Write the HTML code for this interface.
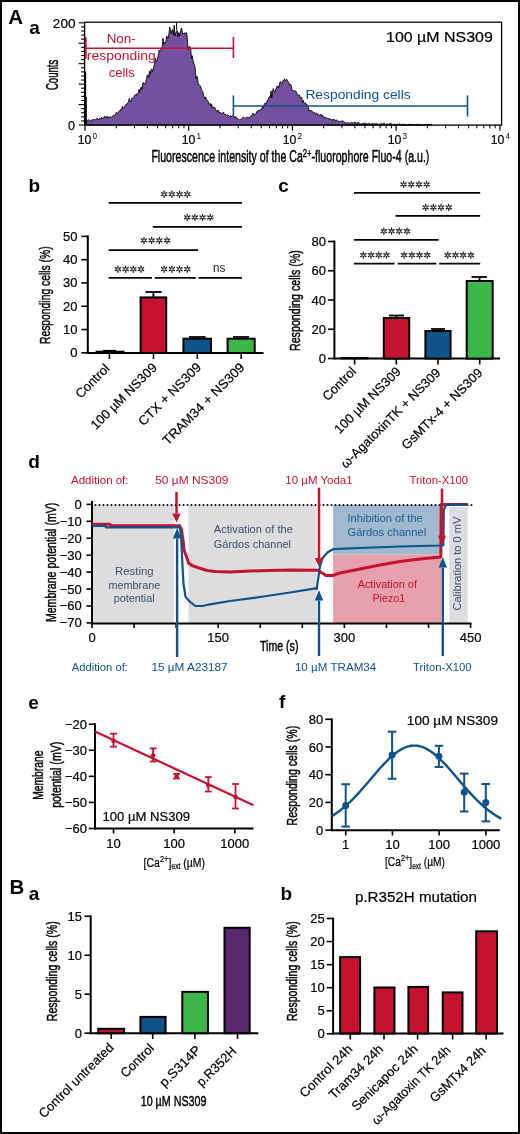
<!DOCTYPE html>
<html><head><meta charset="utf-8"><style>
html,body{margin:0;padding:0;background:#fff;}
svg{display:block;will-change:transform;}
text{font-family:"Liberation Sans",sans-serif;}
</style></head><body>
<svg width="520" height="1134" viewBox="0 0 520 1134" font-family="Liberation Sans">
<rect x="1" y="1" width="518" height="1132" fill="#fff" stroke="#000" stroke-width="2"/>
<text id="t0" x="8.30" y="23.90" font-size="20.5" text-anchor="start" fill="#000" font-weight="bold" >A</text>
<text id="t1" x="29.30" y="34.00" font-size="19" text-anchor="start" fill="#000" font-weight="bold" >a</text>
<path d="M85.0,125.0 L85.0,120.3 L85.8,121.1 L86.5,120.0 L87.2,120.6 L88.0,119.9 L88.8,119.7 L89.5,121.2 L90.2,120.8 L91.0,121.6 L91.8,119.8 L92.5,119.9 L93.2,119.8 L94.0,119.2 L94.8,120.0 L95.5,119.8 L96.2,118.6 L97.0,118.8 L97.8,118.4 L98.5,120.0 L99.2,118.7 L100.0,118.6 L100.8,118.9 L101.5,117.3 L102.2,118.9 L103.0,118.0 L103.8,117.8 L104.5,115.9 L105.2,117.9 L106.0,116.7 L106.8,116.5 L107.5,116.3 L108.2,118.6 L109.0,116.9 L109.8,117.1 L110.5,117.0 L111.2,117.3 L112.0,116.3 L112.8,115.9 L113.5,115.4 L114.2,115.4 L115.0,114.8 L115.8,113.4 L116.5,112.2 L117.2,113.7 L118.0,112.7 L118.8,111.5 L119.5,110.6 L120.2,111.0 L121.0,109.1 L121.8,108.8 L122.5,106.3 L123.2,108.4 L124.0,107.4 L124.8,105.7 L125.5,105.7 L126.2,104.0 L127.0,104.5 L127.8,102.9 L128.5,101.5 L129.2,98.6 L130.0,101.0 L130.8,101.9 L131.5,98.5 L132.2,98.0 L133.0,98.5 L133.8,97.3 L134.5,95.3 L135.2,94.6 L136.0,95.5 L136.8,93.8 L137.5,93.4 L138.2,93.2 L139.0,89.3 L139.8,92.7 L140.5,88.9 L141.2,86.9 L142.0,89.7 L142.8,82.9 L143.5,82.4 L144.2,83.9 L145.0,84.0 L145.8,81.7 L146.5,79.2 L147.2,75.2 L148.0,75.0 L148.8,77.5 L149.5,71.0 L150.2,74.3 L151.0,70.1 L151.8,68.9 L152.5,71.6 L153.2,69.3 L154.0,65.7 L154.8,62.0 L155.5,58.3 L156.2,61.9 L157.0,61.6 L157.8,57.2 L158.5,53.8 L159.2,50.1 L160.0,51.0 L160.8,49.5 L161.5,47.7 L162.2,46.9 L163.0,38.3 L163.8,44.6 L164.5,42.3 L165.2,43.0 L166.0,41.1 L166.8,35.9 L167.5,39.0 L168.2,38.2 L169.0,32.9 L169.8,27.0 L170.5,31.3 L171.2,33.8 L172.0,30.0 L172.8,29.7 L173.5,35.2 L174.2,25.3 L175.0,36.0 L175.8,32.5 L176.5,31.3 L177.2,30.5 L178.0,37.0 L178.8,32.5 L179.5,36.0 L180.2,33.4 L181.0,29.3 L181.8,28.2 L182.5,34.1 L183.2,33.5 L184.0,33.5 L184.8,32.8 L185.5,34.1 L186.2,32.6 L187.0,35.2 L187.8,45.6 L188.5,49.6 L189.2,46.4 L190.0,46.7 L190.8,49.3 L191.5,58.8 L192.2,55.7 L193.0,60.5 L193.8,63.1 L194.5,65.2 L195.2,68.0 L196.0,78.7 L196.8,76.1 L197.5,77.3 L198.2,84.2 L199.0,84.3 L199.8,85.5 L200.5,86.2 L201.2,88.5 L202.0,90.6 L202.8,91.5 L203.5,94.7 L204.2,96.7 L205.0,98.5 L205.8,97.0 L206.5,100.0 L207.2,100.3 L208.0,101.0 L208.8,104.1 L209.5,104.2 L210.2,103.3 L211.0,106.5 L211.8,104.4 L212.5,108.1 L213.2,107.5 L214.0,107.5 L214.8,107.3 L215.5,109.4 L216.2,110.9 L217.0,110.0 L217.8,111.7 L218.5,110.2 L219.2,113.2 L220.0,112.1 L220.8,112.9 L221.5,113.8 L222.2,112.9 L223.0,112.4 L223.8,112.8 L224.5,114.7 L225.2,114.5 L226.0,114.4 L226.8,115.6 L227.5,115.1 L228.2,115.1 L229.0,115.9 L229.8,116.7 L230.5,115.4 L231.2,116.8 L232.0,116.0 L232.8,116.1 L233.5,116.1 L234.2,116.5 L235.0,118.1 L235.8,116.5 L236.5,118.5 L237.2,118.1 L238.0,118.9 L238.8,119.2 L239.5,119.9 L240.2,119.5 L241.0,119.2 L241.8,118.8 L242.5,118.0 L243.2,117.2 L244.0,117.3 L244.8,118.2 L245.5,118.3 L246.2,117.5 L247.0,117.1 L247.8,117.5 L248.5,117.6 L249.2,118.1 L250.0,116.7 L250.8,116.2 L251.5,115.8 L252.2,114.7 L253.0,113.0 L253.8,115.0 L254.5,114.6 L255.2,114.5 L256.0,113.3 L256.8,111.5 L257.5,112.5 L258.2,110.3 L259.0,110.0 L259.8,111.0 L260.5,110.1 L261.2,108.6 L262.0,109.0 L262.8,106.1 L263.5,107.8 L264.2,104.6 L265.0,103.1 L265.8,104.3 L266.5,102.0 L267.2,101.0 L268.0,99.2 L268.8,98.0 L269.5,96.4 L270.2,97.7 L271.0,90.9 L271.8,97.8 L272.5,91.8 L273.2,88.6 L274.0,91.4 L274.8,92.0 L275.5,89.2 L276.2,89.2 L277.0,86.1 L277.8,86.3 L278.5,88.1 L279.2,84.9 L280.0,82.0 L280.8,81.8 L281.5,83.6 L282.2,83.4 L283.0,80.6 L283.8,80.7 L284.5,78.8 L285.2,80.7 L286.0,79.9 L286.8,79.3 L287.5,81.1 L288.2,81.5 L289.0,83.1 L289.8,85.3 L290.5,84.5 L291.2,85.5 L292.0,90.4 L292.8,90.3 L293.5,90.8 L294.2,90.4 L295.0,91.2 L295.8,90.9 L296.5,92.7 L297.2,93.7 L298.0,95.1 L298.8,96.2 L299.5,94.9 L300.2,98.0 L301.0,97.0 L301.8,98.2 L302.5,102.5 L303.2,100.3 L304.0,102.9 L304.8,103.6 L305.5,102.7 L306.2,105.0 L307.0,104.3 L307.8,105.9 L308.5,107.8 L309.2,111.4 L310.0,110.3 L310.8,110.5 L311.5,110.7 L312.2,111.1 L313.0,112.9 L313.8,113.0 L314.5,112.2 L315.2,113.9 L316.0,113.7 L316.8,112.8 L317.5,115.1 L318.2,114.1 L319.0,114.8 L319.8,115.8 L320.5,114.6 L321.2,114.4 L322.0,116.4 L322.8,115.2 L323.5,118.1 L324.2,118.0 L325.0,116.9 L325.8,117.5 L326.5,118.0 L327.2,117.9 L328.0,118.8 L328.8,118.8 L329.5,118.7 L330.2,119.3 L331.0,118.9 L331.8,119.5 L332.5,120.7 L333.2,119.0 L334.0,120.0 L334.8,119.6 L335.5,121.4 L336.2,119.9 L337.0,120.3 L337.8,121.2 L338.5,121.2 L339.2,121.8 L340.0,121.6 L340.8,120.8 L341.5,121.3 L342.2,121.4 L343.0,120.6 L343.8,121.4 L344.5,122.8 L345.2,122.6 L346.0,123.2 L346.8,123.1 L347.5,122.6 L348.2,122.7 L349.0,123.0 L349.8,123.4 L350.5,123.1 L351.2,122.6 L352.0,122.9 L352.8,122.7 L353.5,122.9 L354.2,122.2 L355.0,122.8 L355.8,122.5 L356.5,124.3 L357.2,122.6 L358.0,123.2 L358.8,122.6 L359.5,124.0 L360.2,124.1 L361.0,123.7 L361.8,123.8 L362.5,123.7 L363.2,123.5 L364.0,123.1 L364.8,122.9 L365.5,123.0 L366.2,123.7 L367.0,123.8 L367.8,124.0 L368.5,123.4 L369.2,123.5 L370.0,124.1 L370.8,124.5 L371.5,124.0 L372.2,123.3 L373.0,124.2 L373.8,123.6 L374.5,123.5 L375.2,123.9 L376.0,124.1 L376.8,123.5 L377.5,123.7 L378.2,125.0 L379.0,124.5 L379.8,124.0 L380.5,123.9 L381.2,123.4 L382.0,123.9 L382.8,124.4 L383.5,123.1 L384.2,122.9 L385.0,123.7 L385.8,124.8 L386.5,124.2 L387.2,124.0 L388.0,124.6 L388.8,124.5 L389.5,123.4 L390.2,123.7 L391.0,123.3 L391.8,124.8 L392.5,124.4 L393.2,124.8 L394.0,124.5 L394.8,123.9 L395.5,124.1 L396.2,124.8 L397.0,124.3 L397.8,124.2 L398.5,125.0 L399.2,123.8 L400.0,124.3 L400.8,124.1 L401.5,125.0 L402.2,124.5 L403.0,124.2 L403.8,124.2 L404.5,124.4 L405.2,124.9 L406.0,124.5 L406.8,124.8 L407.5,125.0 L408.2,124.4 L409.0,124.7 L409.8,124.4 L410.5,124.3 L411.2,124.0 L412.0,125.0 L412.8,124.1 L413.5,124.8 L414.2,124.9 L415.0,125.0 L415.8,124.5 L416.5,124.8 L417.2,123.9 L418.0,124.7 L418.8,124.8 L419.5,125.0 L420.2,124.7 L421.0,125.0 L421.8,124.9 L422.5,125.0 L423.2,125.0 L424.0,125.0 L424.8,124.3 L425.5,125.0 L426.2,124.6 L427.0,125.0 L427.8,125.0 L428.5,124.8 L429.2,124.1 L430.0,124.8 L430.8,124.8 L431.5,124.4 L432.0,125.0 Z" fill="#7350a0" stroke="#000" stroke-width="0.85" stroke-linejoin="miter" stroke-miterlimit="2"/>
<line x1="85.60" y1="71.50" x2="85.60" y2="125.00" stroke="#000" stroke-width="1.2" />
<line x1="85.80" y1="97.00" x2="85.80" y2="125.00" stroke="#000" stroke-width="2" />
<line x1="176.60" y1="22.50" x2="176.60" y2="30.00" stroke="#000" stroke-width="1.0" />
<rect x="84.6" y="22.2" width="417" height="102.9" fill="none" stroke="#000" stroke-width="1.3"/>
<line x1="78.60" y1="125.00" x2="84.60" y2="125.00" stroke="#000" stroke-width="1.1" />
<line x1="81.10" y1="120.91" x2="84.60" y2="120.91" stroke="#000" stroke-width="1.1" />
<line x1="81.10" y1="116.82" x2="84.60" y2="116.82" stroke="#000" stroke-width="1.1" />
<line x1="81.10" y1="112.74" x2="84.60" y2="112.74" stroke="#000" stroke-width="1.1" />
<line x1="81.10" y1="108.65" x2="84.60" y2="108.65" stroke="#000" stroke-width="1.1" />
<line x1="78.60" y1="104.56" x2="84.60" y2="104.56" stroke="#000" stroke-width="1.1" />
<line x1="81.10" y1="100.47" x2="84.60" y2="100.47" stroke="#000" stroke-width="1.1" />
<line x1="81.10" y1="96.38" x2="84.60" y2="96.38" stroke="#000" stroke-width="1.1" />
<line x1="81.10" y1="92.30" x2="84.60" y2="92.30" stroke="#000" stroke-width="1.1" />
<line x1="81.10" y1="88.21" x2="84.60" y2="88.21" stroke="#000" stroke-width="1.1" />
<line x1="78.60" y1="84.12" x2="84.60" y2="84.12" stroke="#000" stroke-width="1.1" />
<line x1="81.10" y1="80.03" x2="84.60" y2="80.03" stroke="#000" stroke-width="1.1" />
<line x1="81.10" y1="75.94" x2="84.60" y2="75.94" stroke="#000" stroke-width="1.1" />
<line x1="81.10" y1="71.86" x2="84.60" y2="71.86" stroke="#000" stroke-width="1.1" />
<line x1="81.10" y1="67.77" x2="84.60" y2="67.77" stroke="#000" stroke-width="1.1" />
<line x1="78.60" y1="63.68" x2="84.60" y2="63.68" stroke="#000" stroke-width="1.1" />
<line x1="81.10" y1="59.59" x2="84.60" y2="59.59" stroke="#000" stroke-width="1.1" />
<line x1="81.10" y1="55.50" x2="84.60" y2="55.50" stroke="#000" stroke-width="1.1" />
<line x1="81.10" y1="51.42" x2="84.60" y2="51.42" stroke="#000" stroke-width="1.1" />
<line x1="81.10" y1="47.33" x2="84.60" y2="47.33" stroke="#000" stroke-width="1.1" />
<line x1="78.60" y1="43.24" x2="84.60" y2="43.24" stroke="#000" stroke-width="1.1" />
<line x1="81.10" y1="39.15" x2="84.60" y2="39.15" stroke="#000" stroke-width="1.1" />
<line x1="81.10" y1="35.06" x2="84.60" y2="35.06" stroke="#000" stroke-width="1.1" />
<line x1="81.10" y1="30.98" x2="84.60" y2="30.98" stroke="#000" stroke-width="1.1" />
<line x1="81.10" y1="26.89" x2="84.60" y2="26.89" stroke="#000" stroke-width="1.1" />
<line x1="78.60" y1="22.80" x2="84.60" y2="22.80" stroke="#000" stroke-width="1.1" />
<text id="t2" x="75.50" y="28.00" font-size="12.5" text-anchor="end" fill="#000" textLength="22.61" lengthAdjust="spacingAndGlyphs" stroke="#000" stroke-width="0.2" >200</text>
<text id="t3" x="75.00" y="129.50" font-size="12.5" text-anchor="end" fill="#000" stroke="#000" stroke-width="0.2" >0</text>
<text id="t4" x="57.80" y="74.90" font-size="16" text-anchor="middle" fill="#000" textLength="30.42" lengthAdjust="spacingAndGlyphs" transform="rotate(-90 57.80 74.90)" stroke="#000" stroke-width="0.45" >Counts</text>
<line x1="85.00" y1="125.00" x2="85.00" y2="130.70" stroke="#000" stroke-width="1.2" />
<line x1="116.22" y1="125.00" x2="116.22" y2="128.30" stroke="#000" stroke-width="1.0" />
<line x1="134.49" y1="125.00" x2="134.49" y2="128.30" stroke="#000" stroke-width="1.0" />
<line x1="147.45" y1="125.00" x2="147.45" y2="128.30" stroke="#000" stroke-width="1.0" />
<line x1="157.50" y1="125.00" x2="157.50" y2="128.30" stroke="#000" stroke-width="1.0" />
<line x1="165.71" y1="125.00" x2="165.71" y2="128.30" stroke="#000" stroke-width="1.0" />
<line x1="172.65" y1="125.00" x2="172.65" y2="128.30" stroke="#000" stroke-width="1.0" />
<line x1="178.67" y1="125.00" x2="178.67" y2="128.30" stroke="#000" stroke-width="1.0" />
<line x1="183.97" y1="125.00" x2="183.97" y2="128.30" stroke="#000" stroke-width="1.0" />
<text id="t5" x="84.60" y="143.60" font-size="12.3" text-anchor="middle" fill="#000" stroke="#000" stroke-width="0.2" >10</text>
<text id="t6" x="92.60" y="139.30" font-size="8.2" text-anchor="start" fill="#000" >0</text>
<line x1="188.72" y1="125.00" x2="188.72" y2="130.70" stroke="#000" stroke-width="1.2" />
<line x1="219.94" y1="125.00" x2="219.94" y2="128.30" stroke="#000" stroke-width="1.0" />
<line x1="238.21" y1="125.00" x2="238.21" y2="128.30" stroke="#000" stroke-width="1.0" />
<line x1="251.17" y1="125.00" x2="251.17" y2="128.30" stroke="#000" stroke-width="1.0" />
<line x1="261.22" y1="125.00" x2="261.22" y2="128.30" stroke="#000" stroke-width="1.0" />
<line x1="269.43" y1="125.00" x2="269.43" y2="128.30" stroke="#000" stroke-width="1.0" />
<line x1="276.37" y1="125.00" x2="276.37" y2="128.30" stroke="#000" stroke-width="1.0" />
<line x1="282.39" y1="125.00" x2="282.39" y2="128.30" stroke="#000" stroke-width="1.0" />
<line x1="287.69" y1="125.00" x2="287.69" y2="128.30" stroke="#000" stroke-width="1.0" />
<text id="t7" x="188.50" y="143.60" font-size="12.3" text-anchor="middle" fill="#000" stroke="#000" stroke-width="0.2" >10</text>
<text id="t8" x="196.50" y="139.30" font-size="8.2" text-anchor="start" fill="#000" >1</text>
<line x1="292.44" y1="125.00" x2="292.44" y2="130.70" stroke="#000" stroke-width="1.2" />
<line x1="323.66" y1="125.00" x2="323.66" y2="128.30" stroke="#000" stroke-width="1.0" />
<line x1="341.93" y1="125.00" x2="341.93" y2="128.30" stroke="#000" stroke-width="1.0" />
<line x1="354.89" y1="125.00" x2="354.89" y2="128.30" stroke="#000" stroke-width="1.0" />
<line x1="364.94" y1="125.00" x2="364.94" y2="128.30" stroke="#000" stroke-width="1.0" />
<line x1="373.15" y1="125.00" x2="373.15" y2="128.30" stroke="#000" stroke-width="1.0" />
<line x1="380.09" y1="125.00" x2="380.09" y2="128.30" stroke="#000" stroke-width="1.0" />
<line x1="386.11" y1="125.00" x2="386.11" y2="128.30" stroke="#000" stroke-width="1.0" />
<line x1="391.41" y1="125.00" x2="391.41" y2="128.30" stroke="#000" stroke-width="1.0" />
<text id="t9" x="289.60" y="143.60" font-size="12.3" text-anchor="middle" fill="#000" stroke="#000" stroke-width="0.2" >10</text>
<text id="t10" x="297.60" y="139.30" font-size="8.2" text-anchor="start" fill="#000" >2</text>
<line x1="396.16" y1="125.00" x2="396.16" y2="130.70" stroke="#000" stroke-width="1.2" />
<line x1="427.38" y1="125.00" x2="427.38" y2="128.30" stroke="#000" stroke-width="1.0" />
<line x1="445.65" y1="125.00" x2="445.65" y2="128.30" stroke="#000" stroke-width="1.0" />
<line x1="458.61" y1="125.00" x2="458.61" y2="128.30" stroke="#000" stroke-width="1.0" />
<line x1="468.66" y1="125.00" x2="468.66" y2="128.30" stroke="#000" stroke-width="1.0" />
<line x1="476.87" y1="125.00" x2="476.87" y2="128.30" stroke="#000" stroke-width="1.0" />
<line x1="483.81" y1="125.00" x2="483.81" y2="128.30" stroke="#000" stroke-width="1.0" />
<line x1="489.83" y1="125.00" x2="489.83" y2="128.30" stroke="#000" stroke-width="1.0" />
<line x1="495.13" y1="125.00" x2="495.13" y2="128.30" stroke="#000" stroke-width="1.0" />
<text id="t11" x="394.50" y="143.60" font-size="12.3" text-anchor="middle" fill="#000" stroke="#000" stroke-width="0.2" >10</text>
<text id="t12" x="402.50" y="139.30" font-size="8.2" text-anchor="start" fill="#000" >3</text>
<line x1="499.88" y1="125.00" x2="499.88" y2="130.70" stroke="#000" stroke-width="1.2" />
<text id="t13" x="497.60" y="143.60" font-size="12.3" text-anchor="middle" fill="#000" stroke="#000" stroke-width="0.2" >10</text>
<text id="t14" x="505.60" y="139.30" font-size="8.2" text-anchor="start" fill="#000" >4</text>
<text id="t15" x="151.40" y="162.30" font-size="16" text-anchor="start" fill="#000" textLength="277.99" lengthAdjust="spacingAndGlyphs" stroke="#000" stroke-width="0.45" >Fluorescence intensity of the Ca<tspan font-size="11.5" dy="-5.2">2+</tspan><tspan dy="5.2">-fluorophore Fluo-4 (a.u.)</tspan></text>
<text id="t16" x="386.00" y="41.50" font-size="15" text-anchor="start" fill="#000" textLength="106.88" lengthAdjust="spacingAndGlyphs" stroke="#000" stroke-width="0.2" >100 µM NS309</text>
<line x1="85.00" y1="48.30" x2="233.40" y2="48.30" stroke="#c41230" stroke-width="1.6" />
<line x1="85.80" y1="37.20" x2="85.80" y2="58.60" stroke="#c41230" stroke-width="1.8" />
<line x1="233.40" y1="37.00" x2="233.40" y2="58.00" stroke="#c41230" stroke-width="1.6" />
<text id="t17" x="121.20" y="42.60" font-size="13.5" text-anchor="middle" fill="#c41230" textLength="28.98" lengthAdjust="spacingAndGlyphs" >Non-</text>
<text id="t18" x="121.30" y="59.60" font-size="13.5" text-anchor="middle" fill="#c41230" textLength="68.87" lengthAdjust="spacingAndGlyphs" >responding</text>
<text id="t19" x="121.70" y="76.90" font-size="13.5" text-anchor="middle" fill="#c41230" textLength="25.87" lengthAdjust="spacingAndGlyphs" >cells</text>
<line x1="233.40" y1="106.00" x2="467.50" y2="106.00" stroke="#10528a" stroke-width="1.6" />
<line x1="233.40" y1="95.40" x2="233.40" y2="116.50" stroke="#10528a" stroke-width="1.6" />
<line x1="467.50" y1="95.40" x2="467.50" y2="116.50" stroke="#10528a" stroke-width="1.6" />
<text id="t20" x="305.40" y="98.50" font-size="13.5" text-anchor="start" fill="#10528a" textLength="105.22" lengthAdjust="spacingAndGlyphs" >Responding cells</text>
<text id="t21" x="28.40" y="192.30" font-size="19" text-anchor="start" fill="#000" font-weight="bold" >b</text>
<line x1="87.80" y1="235.40" x2="87.80" y2="353.80" stroke="#000" stroke-width="2" />
<line x1="81.30" y1="352.80" x2="87.80" y2="352.80" stroke="#000" stroke-width="1.6" />
<text id="t22" x="77.50" y="357.30" font-size="13" text-anchor="end" fill="#000" stroke="#000" stroke-width="0.2" >0</text>
<line x1="81.30" y1="329.52" x2="87.80" y2="329.52" stroke="#000" stroke-width="1.6" />
<text id="t23" x="77.50" y="334.02" font-size="13" text-anchor="end" fill="#000" stroke="#000" stroke-width="0.2" >10</text>
<line x1="81.30" y1="306.24" x2="87.80" y2="306.24" stroke="#000" stroke-width="1.6" />
<text id="t24" x="77.50" y="310.74" font-size="13" text-anchor="end" fill="#000" stroke="#000" stroke-width="0.2" >20</text>
<line x1="81.30" y1="282.96" x2="87.80" y2="282.96" stroke="#000" stroke-width="1.6" />
<text id="t25" x="77.50" y="287.46" font-size="13" text-anchor="end" fill="#000" stroke="#000" stroke-width="0.2" >30</text>
<line x1="81.30" y1="259.68" x2="87.80" y2="259.68" stroke="#000" stroke-width="1.6" />
<text id="t26" x="77.50" y="264.18" font-size="13" text-anchor="end" fill="#000" stroke="#000" stroke-width="0.2" >40</text>
<line x1="81.30" y1="236.40" x2="87.80" y2="236.40" stroke="#000" stroke-width="1.6" />
<text id="t27" x="77.50" y="240.90" font-size="13" text-anchor="end" fill="#000" stroke="#000" stroke-width="0.2" >50</text>
<line x1="87.80" y1="353.00" x2="263.50" y2="353.00" stroke="#000" stroke-width="2" />
<line x1="109.40" y1="353.00" x2="109.40" y2="359.00" stroke="#000" stroke-width="1.6" />
<line x1="153.50" y1="353.00" x2="153.50" y2="359.00" stroke="#000" stroke-width="1.6" />
<line x1="197.30" y1="353.00" x2="197.30" y2="359.00" stroke="#000" stroke-width="1.6" />
<line x1="241.20" y1="353.00" x2="241.20" y2="359.00" stroke="#000" stroke-width="1.6" />
<text id="t28" x="49.80" y="295.20" font-size="15.4" text-anchor="middle" fill="#000" textLength="97.63" lengthAdjust="spacingAndGlyphs" transform="rotate(-90 49.80 295.20)" stroke="#000" stroke-width="0.45" >Responding cells (%)</text>
<rect x="96.50" y="351.64" width="27.00" height="1.36" fill="#000" stroke="#000" stroke-width="1.8"/>
<line x1="103.00" y1="350.70" x2="116.00" y2="350.70" stroke="#000" stroke-width="1.6" />
<rect x="140.60" y="297.40" width="25.60" height="55.60" fill="#c41230" stroke="#000" stroke-width="2"/>
<line x1="153.40" y1="297.00" x2="153.40" y2="292.00" stroke="#000" stroke-width="1.8" />
<line x1="145.40" y1="292.00" x2="161.70" y2="292.00" stroke="#000" stroke-width="1.8" />
<rect x="183.40" y="338.70" width="27.60" height="14.30" fill="#10528a" stroke="#000" stroke-width="2"/>
<line x1="189.00" y1="337.00" x2="205.50" y2="337.00" stroke="#000" stroke-width="1.8" />
<rect x="227.60" y="338.70" width="27.10" height="14.30" fill="#3cb54b" stroke="#000" stroke-width="2"/>
<line x1="233.00" y1="337.00" x2="249.00" y2="337.00" stroke="#000" stroke-width="1.8" />
<line x1="108.70" y1="202.90" x2="241.90" y2="202.90" stroke="#000" stroke-width="1.7" />
<path d="M164.15,192.85 L164.15,191.20 M162.98,193.52 L161.55,192.70 M162.98,194.88 L161.55,195.70 M164.15,195.55 L164.15,197.20 M165.32,194.88 L166.75,195.70 M165.32,193.52 L166.75,192.70 " stroke="#222" stroke-width="1.35" stroke-linecap="round" fill="none"/>
<path d="M171.85,192.85 L171.85,191.20 M170.68,193.52 L169.25,192.70 M170.68,194.88 L169.25,195.70 M171.85,195.55 L171.85,197.20 M173.02,194.88 L174.45,195.70 M173.02,193.52 L174.45,192.70 " stroke="#222" stroke-width="1.35" stroke-linecap="round" fill="none"/>
<path d="M179.55,192.85 L179.55,191.20 M178.38,193.52 L176.95,192.70 M178.38,194.88 L176.95,195.70 M179.55,195.55 L179.55,197.20 M180.72,194.88 L182.15,195.70 M180.72,193.52 L182.15,192.70 " stroke="#222" stroke-width="1.35" stroke-linecap="round" fill="none"/>
<path d="M187.25,192.85 L187.25,191.20 M186.08,193.52 L184.65,192.70 M186.08,194.88 L184.65,195.70 M187.25,195.55 L187.25,197.20 M188.42,194.88 L189.85,195.70 M188.42,193.52 L189.85,192.70 " stroke="#222" stroke-width="1.35" stroke-linecap="round" fill="none"/>
<line x1="152.80" y1="226.80" x2="241.90" y2="226.80" stroke="#000" stroke-width="1.7" />
<path d="M187.15,216.05 L187.15,214.40 M185.98,216.72 L184.55,215.90 M185.98,218.07 L184.55,218.90 M187.15,218.75 L187.15,220.40 M188.32,218.07 L189.75,218.90 M188.32,216.72 L189.75,215.90 " stroke="#222" stroke-width="1.35" stroke-linecap="round" fill="none"/>
<path d="M194.85,216.05 L194.85,214.40 M193.68,216.72 L192.25,215.90 M193.68,218.07 L192.25,218.90 M194.85,218.75 L194.85,220.40 M196.02,218.07 L197.45,218.90 M196.02,216.72 L197.45,215.90 " stroke="#222" stroke-width="1.35" stroke-linecap="round" fill="none"/>
<path d="M202.55,216.05 L202.55,214.40 M201.38,216.72 L199.95,215.90 M201.38,218.07 L199.95,218.90 M202.55,218.75 L202.55,220.40 M203.72,218.07 L205.15,218.90 M203.72,216.72 L205.15,215.90 " stroke="#222" stroke-width="1.35" stroke-linecap="round" fill="none"/>
<path d="M210.25,216.05 L210.25,214.40 M209.08,216.72 L207.65,215.90 M209.08,218.07 L207.65,218.90 M210.25,218.75 L210.25,220.40 M211.42,218.07 L212.85,218.90 M211.42,216.72 L212.85,215.90 " stroke="#222" stroke-width="1.35" stroke-linecap="round" fill="none"/>
<line x1="108.70" y1="250.20" x2="198.00" y2="250.20" stroke="#000" stroke-width="1.7" />
<path d="M143.95,239.05 L143.95,237.40 M142.78,239.72 L141.35,238.90 M142.78,241.07 L141.35,241.90 M143.95,241.75 L143.95,243.40 M145.12,241.07 L146.55,241.90 M145.12,239.72 L146.55,238.90 " stroke="#222" stroke-width="1.35" stroke-linecap="round" fill="none"/>
<path d="M151.65,239.05 L151.65,237.40 M150.48,239.72 L149.05,238.90 M150.48,241.07 L149.05,241.90 M151.65,241.75 L151.65,243.40 M152.82,241.07 L154.25,241.90 M152.82,239.72 L154.25,238.90 " stroke="#222" stroke-width="1.35" stroke-linecap="round" fill="none"/>
<path d="M159.35,239.05 L159.35,237.40 M158.18,239.72 L156.75,238.90 M158.18,241.07 L156.75,241.90 M159.35,241.75 L159.35,243.40 M160.52,241.07 L161.95,241.90 M160.52,239.72 L161.95,238.90 " stroke="#222" stroke-width="1.35" stroke-linecap="round" fill="none"/>
<path d="M167.05,239.05 L167.05,237.40 M165.88,239.72 L164.45,238.90 M165.88,241.07 L164.45,241.90 M167.05,241.75 L167.05,243.40 M168.22,241.07 L169.65,241.90 M168.22,239.72 L169.65,238.90 " stroke="#222" stroke-width="1.35" stroke-linecap="round" fill="none"/>
<line x1="108.70" y1="277.90" x2="151.90" y2="277.90" stroke="#000" stroke-width="1.7" />
<line x1="154.80" y1="277.90" x2="195.80" y2="277.90" stroke="#000" stroke-width="1.7" />
<line x1="198.60" y1="277.90" x2="241.90" y2="277.90" stroke="#000" stroke-width="1.7" />
<path d="M117.95,267.85 L117.95,266.20 M116.78,268.52 L115.35,267.70 M116.78,269.88 L115.35,270.70 M117.95,270.55 L117.95,272.20 M119.12,269.88 L120.55,270.70 M119.12,268.52 L120.55,267.70 " stroke="#222" stroke-width="1.35" stroke-linecap="round" fill="none"/>
<path d="M125.65,267.85 L125.65,266.20 M124.48,268.52 L123.05,267.70 M124.48,269.88 L123.05,270.70 M125.65,270.55 L125.65,272.20 M126.82,269.88 L128.25,270.70 M126.82,268.52 L128.25,267.70 " stroke="#222" stroke-width="1.35" stroke-linecap="round" fill="none"/>
<path d="M133.35,267.85 L133.35,266.20 M132.18,268.52 L130.75,267.70 M132.18,269.88 L130.75,270.70 M133.35,270.55 L133.35,272.20 M134.52,269.88 L135.95,270.70 M134.52,268.52 L135.95,267.70 " stroke="#222" stroke-width="1.35" stroke-linecap="round" fill="none"/>
<path d="M141.05,267.85 L141.05,266.20 M139.88,268.52 L138.45,267.70 M139.88,269.88 L138.45,270.70 M141.05,270.55 L141.05,272.20 M142.22,269.88 L143.65,270.70 M142.22,268.52 L143.65,267.70 " stroke="#222" stroke-width="1.35" stroke-linecap="round" fill="none"/>
<path d="M164.15,267.85 L164.15,266.20 M162.98,268.52 L161.55,267.70 M162.98,269.88 L161.55,270.70 M164.15,270.55 L164.15,272.20 M165.32,269.88 L166.75,270.70 M165.32,268.52 L166.75,267.70 " stroke="#222" stroke-width="1.35" stroke-linecap="round" fill="none"/>
<path d="M171.85,267.85 L171.85,266.20 M170.68,268.52 L169.25,267.70 M170.68,269.88 L169.25,270.70 M171.85,270.55 L171.85,272.20 M173.02,269.88 L174.45,270.70 M173.02,268.52 L174.45,267.70 " stroke="#222" stroke-width="1.35" stroke-linecap="round" fill="none"/>
<path d="M179.55,267.85 L179.55,266.20 M178.38,268.52 L176.95,267.70 M178.38,269.88 L176.95,270.70 M179.55,270.55 L179.55,272.20 M180.72,269.88 L182.15,270.70 M180.72,268.52 L182.15,267.70 " stroke="#222" stroke-width="1.35" stroke-linecap="round" fill="none"/>
<path d="M187.25,267.85 L187.25,266.20 M186.08,268.52 L184.65,267.70 M186.08,269.88 L184.65,270.70 M187.25,270.55 L187.25,272.20 M188.42,269.88 L189.85,270.70 M188.42,268.52 L189.85,267.70 " stroke="#222" stroke-width="1.35" stroke-linecap="round" fill="none"/>
<text id="t29" x="219.10" y="272.10" font-size="12" text-anchor="middle" fill="#222" textLength="12.42" lengthAdjust="spacingAndGlyphs" >ns</text>
<text id="t30" x="110.40" y="369.30" font-size="13" text-anchor="end" fill="#000" textLength="42.06" lengthAdjust="spacingAndGlyphs" transform="rotate(-45 110.40 369.30)" stroke="#000" stroke-width="0.2" >Control</text>
<text id="t31" x="157.80" y="368.40" font-size="13" text-anchor="end" fill="#000" textLength="87.45" lengthAdjust="spacingAndGlyphs" transform="rotate(-45 157.80 368.40)" stroke="#000" stroke-width="0.2" >100 µM NS309</text>
<text id="t32" x="202.00" y="368.10" font-size="13" text-anchor="end" fill="#000" textLength="82.70" lengthAdjust="spacingAndGlyphs" transform="rotate(-45 202.00 368.10)" stroke="#000" stroke-width="0.2" >CTX + NS309</text>
<text id="t33" x="245.40" y="368.10" font-size="13" text-anchor="end" fill="#000" textLength="109.72" lengthAdjust="spacingAndGlyphs" transform="rotate(-45 245.40 368.10)" stroke="#000" stroke-width="0.2" >TRAM34 + NS309</text>
<text id="t34" x="278.30" y="191.70" font-size="19" text-anchor="start" fill="#000" font-weight="bold" >c</text>
<line x1="334.40" y1="240.50" x2="334.40" y2="359.50" stroke="#000" stroke-width="2" />
<line x1="327.90" y1="358.50" x2="334.40" y2="358.50" stroke="#000" stroke-width="1.6" />
<text id="t35" x="326.00" y="363.00" font-size="13" text-anchor="end" fill="#000" stroke="#000" stroke-width="0.2" >0</text>
<line x1="327.90" y1="329.25" x2="334.40" y2="329.25" stroke="#000" stroke-width="1.6" />
<text id="t36" x="326.00" y="333.75" font-size="13" text-anchor="end" fill="#000" stroke="#000" stroke-width="0.2" >20</text>
<line x1="327.90" y1="300.00" x2="334.40" y2="300.00" stroke="#000" stroke-width="1.6" />
<text id="t37" x="326.00" y="304.50" font-size="13" text-anchor="end" fill="#000" stroke="#000" stroke-width="0.2" >40</text>
<line x1="327.90" y1="270.75" x2="334.40" y2="270.75" stroke="#000" stroke-width="1.6" />
<text id="t38" x="326.00" y="275.25" font-size="13" text-anchor="end" fill="#000" stroke="#000" stroke-width="0.2" >60</text>
<line x1="327.90" y1="241.50" x2="334.40" y2="241.50" stroke="#000" stroke-width="1.6" />
<text id="t39" x="326.00" y="246.00" font-size="13" text-anchor="end" fill="#000" stroke="#000" stroke-width="0.2" >80</text>
<line x1="334.40" y1="358.60" x2="500.00" y2="358.60" stroke="#000" stroke-width="2" />
<line x1="354.60" y1="358.60" x2="354.60" y2="364.50" stroke="#000" stroke-width="1.6" />
<line x1="396.30" y1="358.60" x2="396.30" y2="364.50" stroke="#000" stroke-width="1.6" />
<line x1="438.00" y1="358.60" x2="438.00" y2="364.50" stroke="#000" stroke-width="1.6" />
<line x1="479.70" y1="358.60" x2="479.70" y2="364.50" stroke="#000" stroke-width="1.6" />
<text id="t40" x="299.60" y="300.60" font-size="15.4" text-anchor="middle" fill="#000" textLength="100.83" lengthAdjust="spacingAndGlyphs" transform="rotate(-90 299.60 300.60)" stroke="#000" stroke-width="0.45" >Responding cells (%)</text>
<rect x="341.50" y="357.92" width="26.50" height="0.69" fill="#000" stroke="#000" stroke-width="1.6"/>
<rect x="383.80" y="318.00" width="25.40" height="40.60" fill="#c41230" stroke="#000" stroke-width="2"/>
<line x1="389.00" y1="315.50" x2="404.00" y2="315.50" stroke="#000" stroke-width="1.8" />
<line x1="396.50" y1="318.00" x2="396.50" y2="315.50" stroke="#000" stroke-width="1.8" />
<rect x="425.40" y="331.00" width="25.20" height="27.60" fill="#10528a" stroke="#000" stroke-width="2"/>
<line x1="431.00" y1="329.00" x2="445.00" y2="329.00" stroke="#000" stroke-width="1.8" />
<rect x="466.70" y="281.00" width="26.00" height="77.60" fill="#3cb54b" stroke="#000" stroke-width="2"/>
<line x1="479.50" y1="281.00" x2="479.50" y2="277.00" stroke="#000" stroke-width="1.8" />
<line x1="471.50" y1="277.00" x2="487.00" y2="277.00" stroke="#000" stroke-width="1.8" />
<line x1="354.00" y1="192.80" x2="480.20" y2="192.80" stroke="#000" stroke-width="1.7" />
<path d="M403.55,183.05 L403.55,181.40 M402.38,183.72 L400.95,182.90 M402.38,185.07 L400.95,185.90 M403.55,185.75 L403.55,187.40 M404.72,185.07 L406.15,185.90 M404.72,183.72 L406.15,182.90 " stroke="#222" stroke-width="1.35" stroke-linecap="round" fill="none"/>
<path d="M411.25,183.05 L411.25,181.40 M410.08,183.72 L408.65,182.90 M410.08,185.07 L408.65,185.90 M411.25,185.75 L411.25,187.40 M412.42,185.07 L413.85,185.90 M412.42,183.72 L413.85,182.90 " stroke="#222" stroke-width="1.35" stroke-linecap="round" fill="none"/>
<path d="M418.95,183.05 L418.95,181.40 M417.78,183.72 L416.35,182.90 M417.78,185.07 L416.35,185.90 M418.95,185.75 L418.95,187.40 M420.12,185.07 L421.55,185.90 M420.12,183.72 L421.55,182.90 " stroke="#222" stroke-width="1.35" stroke-linecap="round" fill="none"/>
<path d="M426.65,183.05 L426.65,181.40 M425.48,183.72 L424.05,182.90 M425.48,185.07 L424.05,185.90 M426.65,185.75 L426.65,187.40 M427.82,185.07 L429.25,185.90 M427.82,183.72 L429.25,182.90 " stroke="#222" stroke-width="1.35" stroke-linecap="round" fill="none"/>
<line x1="395.50" y1="215.90" x2="480.20" y2="215.90" stroke="#000" stroke-width="1.7" />
<path d="M425.65,206.05 L425.65,204.40 M424.48,206.72 L423.05,205.90 M424.48,208.07 L423.05,208.90 M425.65,208.75 L425.65,210.40 M426.82,208.07 L428.25,208.90 M426.82,206.72 L428.25,205.90 " stroke="#222" stroke-width="1.35" stroke-linecap="round" fill="none"/>
<path d="M433.35,206.05 L433.35,204.40 M432.18,206.72 L430.75,205.90 M432.18,208.07 L430.75,208.90 M433.35,208.75 L433.35,210.40 M434.52,208.07 L435.95,208.90 M434.52,206.72 L435.95,205.90 " stroke="#222" stroke-width="1.35" stroke-linecap="round" fill="none"/>
<path d="M441.05,206.05 L441.05,204.40 M439.88,206.72 L438.45,205.90 M439.88,208.07 L438.45,208.90 M441.05,208.75 L441.05,210.40 M442.22,208.07 L443.65,208.90 M442.22,206.72 L443.65,205.90 " stroke="#222" stroke-width="1.35" stroke-linecap="round" fill="none"/>
<path d="M448.75,206.05 L448.75,204.40 M447.58,206.72 L446.15,205.90 M447.58,208.07 L446.15,208.90 M448.75,208.75 L448.75,210.40 M449.92,208.07 L451.35,208.90 M449.92,206.72 L451.35,205.90 " stroke="#222" stroke-width="1.35" stroke-linecap="round" fill="none"/>
<line x1="354.00" y1="239.90" x2="438.60" y2="239.90" stroke="#000" stroke-width="1.7" />
<path d="M383.85,229.75 L383.85,228.10 M382.68,230.42 L381.25,229.60 M382.68,231.78 L381.25,232.60 M383.85,232.45 L383.85,234.10 M385.02,231.78 L386.45,232.60 M385.02,230.42 L386.45,229.60 " stroke="#222" stroke-width="1.35" stroke-linecap="round" fill="none"/>
<path d="M391.55,229.75 L391.55,228.10 M390.38,230.42 L388.95,229.60 M390.38,231.78 L388.95,232.60 M391.55,232.45 L391.55,234.10 M392.72,231.78 L394.15,232.60 M392.72,230.42 L394.15,229.60 " stroke="#222" stroke-width="1.35" stroke-linecap="round" fill="none"/>
<path d="M399.25,229.75 L399.25,228.10 M398.08,230.42 L396.65,229.60 M398.08,231.78 L396.65,232.60 M399.25,232.45 L399.25,234.10 M400.42,231.78 L401.85,232.60 M400.42,230.42 L401.85,229.60 " stroke="#222" stroke-width="1.35" stroke-linecap="round" fill="none"/>
<path d="M406.95,229.75 L406.95,228.10 M405.78,230.42 L404.35,229.60 M405.78,231.78 L404.35,232.60 M406.95,232.45 L406.95,234.10 M408.12,231.78 L409.55,232.60 M408.12,230.42 L409.55,229.60 " stroke="#222" stroke-width="1.35" stroke-linecap="round" fill="none"/>
<line x1="354.00" y1="263.60" x2="394.60" y2="263.60" stroke="#000" stroke-width="1.7" />
<line x1="397.70" y1="263.60" x2="436.20" y2="263.60" stroke="#000" stroke-width="1.7" />
<line x1="439.20" y1="263.60" x2="480.20" y2="263.60" stroke="#000" stroke-width="1.7" />
<path d="M363.35,253.75 L363.35,252.10 M362.18,254.42 L360.75,253.60 M362.18,255.78 L360.75,256.60 M363.35,256.45 L363.35,258.10 M364.52,255.78 L365.95,256.60 M364.52,254.42 L365.95,253.60 " stroke="#222" stroke-width="1.35" stroke-linecap="round" fill="none"/>
<path d="M371.05,253.75 L371.05,252.10 M369.88,254.42 L368.45,253.60 M369.88,255.78 L368.45,256.60 M371.05,256.45 L371.05,258.10 M372.22,255.78 L373.65,256.60 M372.22,254.42 L373.65,253.60 " stroke="#222" stroke-width="1.35" stroke-linecap="round" fill="none"/>
<path d="M378.75,253.75 L378.75,252.10 M377.58,254.42 L376.15,253.60 M377.58,255.78 L376.15,256.60 M378.75,256.45 L378.75,258.10 M379.92,255.78 L381.35,256.60 M379.92,254.42 L381.35,253.60 " stroke="#222" stroke-width="1.35" stroke-linecap="round" fill="none"/>
<path d="M386.45,253.75 L386.45,252.10 M385.28,254.42 L383.85,253.60 M385.28,255.78 L383.85,256.60 M386.45,256.45 L386.45,258.10 M387.62,255.78 L389.05,256.60 M387.62,254.42 L389.05,253.60 " stroke="#222" stroke-width="1.35" stroke-linecap="round" fill="none"/>
<path d="M404.15,253.75 L404.15,252.10 M402.98,254.42 L401.55,253.60 M402.98,255.78 L401.55,256.60 M404.15,256.45 L404.15,258.10 M405.32,255.78 L406.75,256.60 M405.32,254.42 L406.75,253.60 " stroke="#222" stroke-width="1.35" stroke-linecap="round" fill="none"/>
<path d="M411.85,253.75 L411.85,252.10 M410.68,254.42 L409.25,253.60 M410.68,255.78 L409.25,256.60 M411.85,256.45 L411.85,258.10 M413.02,255.78 L414.45,256.60 M413.02,254.42 L414.45,253.60 " stroke="#222" stroke-width="1.35" stroke-linecap="round" fill="none"/>
<path d="M419.55,253.75 L419.55,252.10 M418.38,254.42 L416.95,253.60 M418.38,255.78 L416.95,256.60 M419.55,256.45 L419.55,258.10 M420.72,255.78 L422.15,256.60 M420.72,254.42 L422.15,253.60 " stroke="#222" stroke-width="1.35" stroke-linecap="round" fill="none"/>
<path d="M427.25,253.75 L427.25,252.10 M426.08,254.42 L424.65,253.60 M426.08,255.78 L424.65,256.60 M427.25,256.45 L427.25,258.10 M428.42,255.78 L429.85,256.60 M428.42,254.42 L429.85,253.60 " stroke="#222" stroke-width="1.35" stroke-linecap="round" fill="none"/>
<path d="M447.75,253.75 L447.75,252.10 M446.58,254.42 L445.15,253.60 M446.58,255.78 L445.15,256.60 M447.75,256.45 L447.75,258.10 M448.92,255.78 L450.35,256.60 M448.92,254.42 L450.35,253.60 " stroke="#222" stroke-width="1.35" stroke-linecap="round" fill="none"/>
<path d="M455.45,253.75 L455.45,252.10 M454.28,254.42 L452.85,253.60 M454.28,255.78 L452.85,256.60 M455.45,256.45 L455.45,258.10 M456.62,255.78 L458.05,256.60 M456.62,254.42 L458.05,253.60 " stroke="#222" stroke-width="1.35" stroke-linecap="round" fill="none"/>
<path d="M463.15,253.75 L463.15,252.10 M461.98,254.42 L460.55,253.60 M461.98,255.78 L460.55,256.60 M463.15,256.45 L463.15,258.10 M464.32,255.78 L465.75,256.60 M464.32,254.42 L465.75,253.60 " stroke="#222" stroke-width="1.35" stroke-linecap="round" fill="none"/>
<path d="M470.85,253.75 L470.85,252.10 M469.68,254.42 L468.25,253.60 M469.68,255.78 L468.25,256.60 M470.85,256.45 L470.85,258.10 M472.02,255.78 L473.45,256.60 M472.02,254.42 L473.45,253.60 " stroke="#222" stroke-width="1.35" stroke-linecap="round" fill="none"/>
<text id="t41" x="356.90" y="372.30" font-size="13" text-anchor="end" fill="#000" textLength="41.20" lengthAdjust="spacingAndGlyphs" transform="rotate(-45 356.90 372.30)" stroke="#000" stroke-width="0.2" >Control</text>
<text id="t42" x="401.80" y="372.30" font-size="13" text-anchor="end" fill="#000" textLength="87.97" lengthAdjust="spacingAndGlyphs" transform="rotate(-45 401.80 372.30)" stroke="#000" stroke-width="0.2" >100 µM NS309</text>
<text id="t43" x="441.30" y="373.60" font-size="13" text-anchor="end" fill="#000" textLength="134.81" lengthAdjust="spacingAndGlyphs" transform="rotate(-45 441.30 373.60)" stroke="#000" stroke-width="0.2" >ω-AgatoxinTK + NS309</text>
<text id="t44" x="483.30" y="373.60" font-size="13" text-anchor="end" fill="#000" textLength="108.30" lengthAdjust="spacingAndGlyphs" transform="rotate(-45 483.30 373.60)" stroke="#000" stroke-width="0.2" >GsMTx-4 + NS309</text>
<text id="t45" x="28.20" y="468.30" font-size="19" text-anchor="start" fill="#000" font-weight="bold" >d</text>
<rect x="92.00" y="505.00" width="82.00" height="118.60" fill="#dddddf"/>
<rect x="188.40" y="505.00" width="128.30" height="118.60" fill="#dddddf"/>
<rect x="333.10" y="505.00" width="108.10" height="49.60" fill="#a0b9cf"/>
<rect x="333.10" y="554.60" width="108.10" height="69.00" fill="#e8a1ac"/>
<rect x="449.20" y="507.00" width="18.50" height="116.60" fill="#dddddf"/>
<line x1="95.5" y1="504.9" x2="472" y2="504.9" stroke="#000" stroke-width="2" stroke-linecap="round" stroke-dasharray="0 4"/>
<line x1="92.00" y1="501.00" x2="92.00" y2="624.60" stroke="#000" stroke-width="2" />
<line x1="86.50" y1="504.40" x2="92.00" y2="504.40" stroke="#000" stroke-width="1.6" />
<text id="t46" x="81.80" y="508.90" font-size="13" text-anchor="end" fill="#000" stroke="#000" stroke-width="0.2" >0</text>
<line x1="86.50" y1="521.33" x2="92.00" y2="521.33" stroke="#000" stroke-width="1.6" />
<text id="t47" x="81.80" y="525.83" font-size="13" text-anchor="end" fill="#000" stroke="#000" stroke-width="0.2" >−10</text>
<line x1="86.50" y1="538.26" x2="92.00" y2="538.26" stroke="#000" stroke-width="1.6" />
<text id="t48" x="81.80" y="542.76" font-size="13" text-anchor="end" fill="#000" stroke="#000" stroke-width="0.2" >−20</text>
<line x1="86.50" y1="555.19" x2="92.00" y2="555.19" stroke="#000" stroke-width="1.6" />
<text id="t49" x="81.80" y="559.69" font-size="13" text-anchor="end" fill="#000" stroke="#000" stroke-width="0.2" >−30</text>
<line x1="86.50" y1="572.12" x2="92.00" y2="572.12" stroke="#000" stroke-width="1.6" />
<text id="t50" x="81.80" y="576.62" font-size="13" text-anchor="end" fill="#000" stroke="#000" stroke-width="0.2" >−40</text>
<line x1="86.50" y1="589.05" x2="92.00" y2="589.05" stroke="#000" stroke-width="1.6" />
<text id="t51" x="81.80" y="593.55" font-size="13" text-anchor="end" fill="#000" stroke="#000" stroke-width="0.2" >−50</text>
<line x1="86.50" y1="605.98" x2="92.00" y2="605.98" stroke="#000" stroke-width="1.6" />
<text id="t52" x="81.80" y="610.48" font-size="13" text-anchor="end" fill="#000" stroke="#000" stroke-width="0.2" >−60</text>
<line x1="86.50" y1="622.91" x2="92.00" y2="622.91" stroke="#000" stroke-width="1.6" />
<text id="t53" x="81.80" y="627.41" font-size="13" text-anchor="end" fill="#000" stroke="#000" stroke-width="0.2" >−70</text>
<line x1="91.00" y1="623.60" x2="471.50" y2="623.60" stroke="#000" stroke-width="2" />
<line x1="92.00" y1="623.60" x2="92.00" y2="628.00" stroke="#000" stroke-width="1.6" />
<line x1="134.06" y1="623.60" x2="134.06" y2="628.00" stroke="#000" stroke-width="1.6" />
<line x1="176.13" y1="623.60" x2="176.13" y2="628.00" stroke="#000" stroke-width="1.6" />
<line x1="218.19" y1="623.60" x2="218.19" y2="628.00" stroke="#000" stroke-width="1.6" />
<line x1="260.26" y1="623.60" x2="260.26" y2="628.00" stroke="#000" stroke-width="1.6" />
<line x1="302.33" y1="623.60" x2="302.33" y2="628.00" stroke="#000" stroke-width="1.6" />
<line x1="344.39" y1="623.60" x2="344.39" y2="628.00" stroke="#000" stroke-width="1.6" />
<line x1="386.46" y1="623.60" x2="386.46" y2="628.00" stroke="#000" stroke-width="1.6" />
<line x1="428.52" y1="623.60" x2="428.52" y2="628.00" stroke="#000" stroke-width="1.6" />
<line x1="470.59" y1="623.60" x2="470.59" y2="628.00" stroke="#000" stroke-width="1.6" />
<text id="t54" x="92.00" y="642.00" font-size="13" text-anchor="middle" fill="#000" stroke="#000" stroke-width="0.2" >0</text>
<text id="t55" x="218.19" y="642.00" font-size="13" text-anchor="middle" fill="#000" stroke="#000" stroke-width="0.2" >150</text>
<text id="t56" x="344.39" y="642.00" font-size="13" text-anchor="middle" fill="#000" stroke="#000" stroke-width="0.2" >300</text>
<text id="t57" x="470.59" y="642.00" font-size="13" text-anchor="middle" fill="#000" stroke="#000" stroke-width="0.2" >450</text>
<text id="t58" x="279.20" y="651.30" font-size="15" text-anchor="middle" fill="#000" textLength="38.44" lengthAdjust="spacingAndGlyphs" stroke="#000" stroke-width="0.45" >Time (s)</text>
<text id="t59" x="55.60" y="562.40" font-size="15" text-anchor="middle" fill="#000" textLength="119.43" lengthAdjust="spacingAndGlyphs" transform="rotate(-90 55.60 562.40)" stroke="#000" stroke-width="0.45" >Membrane potential (mV)</text>
<path d="M92.00,524.30 L110.00,524.30 L111.00,525.70 L179.80,525.70 L181.50,530.00 L183.00,540.00 L184.00,550.00 L186.00,555.50 L187.50,559.50 L188.50,563.00 L192.00,565.50 L200.00,568.30 L207.00,570.50 L215.00,571.60 L230.00,572.00 L245.00,571.30 L260.00,570.70 L290.00,570.00 L318.00,570.20 L322.00,573.00 L326.00,575.40 L333.00,575.40 L340.00,573.00 L360.00,569.00 L380.00,565.00 L400.00,561.50 L420.00,559.00 L440.80,557.00 L441.20,504.50 L467.70,504.50" fill="none" stroke="#c41230" stroke-width="3.0" stroke-linejoin="round" />
<path d="M92.00,525.80 L105.00,525.80 L106.00,527.40 L179.80,527.40 L181.00,535.00 L182.70,570.00 L183.50,584.00 L185.60,597.00 L190.20,602.00 L195.40,606.00 L202.30,606.00 L210.00,604.30 L230.00,601.00 L260.00,597.00 L290.00,592.50 L315.40,588.30 L316.70,589.00 L318.00,580.00 L320.00,566.00 L322.60,558.00 L327.70,552.30 L333.00,549.20 L360.00,548.00 L400.00,546.50 L440.00,545.50 L443.30,545.30 L443.80,510.00 L446.00,505.00 L467.70,504.50" fill="none" stroke="#10528a" stroke-width="2.2" stroke-linejoin="round" />
<line x1="176.50" y1="492.00" x2="176.50" y2="513.40" stroke="#c41230" stroke-width="2.5" />
<path d="M172.30,513.40 L180.70,513.40 L176.50,522.40 Z" fill="#c41230"/>
<line x1="319.00" y1="487.70" x2="319.00" y2="558.00" stroke="#c41230" stroke-width="2.5" />
<path d="M314.80,558.00 L323.20,558.00 L319.00,567.00 Z" fill="#c41230"/>
<line x1="442.00" y1="488.50" x2="442.00" y2="535.60" stroke="#c41230" stroke-width="2.5" />
<path d="M437.80,535.60 L446.20,535.60 L442.00,544.60 Z" fill="#c41230"/>
<line x1="177.10" y1="657.00" x2="177.10" y2="538.50" stroke="#10528a" stroke-width="2.4" />
<path d="M172.90,538.50 L181.30,538.50 L177.10,528.00 Z" fill="#10528a"/>
<line x1="319.00" y1="656.00" x2="319.00" y2="600.50" stroke="#10528a" stroke-width="2.4" />
<path d="M314.80,600.50 L323.20,600.50 L319.00,590.00 Z" fill="#10528a"/>
<line x1="442.80" y1="656.00" x2="442.80" y2="567.50" stroke="#10528a" stroke-width="2.4" />
<path d="M438.60,567.50 L447.00,567.50 L442.80,557.00 Z" fill="#10528a"/>
<text id="t60" x="71.00" y="484.00" font-size="11" text-anchor="start" fill="#c41230" textLength="57.52" lengthAdjust="spacingAndGlyphs" >Addition of:</text>
<text id="t61" x="155.20" y="484.00" font-size="11" text-anchor="start" fill="#c41230" textLength="73.27" lengthAdjust="spacingAndGlyphs" >50 µM NS309</text>
<text id="t62" x="285.30" y="484.00" font-size="11" text-anchor="start" fill="#c41230" textLength="67.33" lengthAdjust="spacingAndGlyphs" >10 µM Yoda1</text>
<text id="t63" x="409.60" y="484.00" font-size="11" text-anchor="start" fill="#c41230" textLength="58.49" lengthAdjust="spacingAndGlyphs" >Triton-X100</text>
<text id="t64" x="71.80" y="671.30" font-size="11" text-anchor="start" fill="#10528a" textLength="56.07" lengthAdjust="spacingAndGlyphs" >Addition of:</text>
<text id="t65" x="151.40" y="671.30" font-size="11" text-anchor="start" fill="#10528a" textLength="76.27" lengthAdjust="spacingAndGlyphs" >15 µM A23187</text>
<text id="t66" x="294.90" y="671.30" font-size="11" text-anchor="start" fill="#10528a" textLength="81.35" lengthAdjust="spacingAndGlyphs" >10 µM TRAM34</text>
<text id="t67" x="413.10" y="671.30" font-size="11" text-anchor="start" fill="#10528a" textLength="58.48" lengthAdjust="spacingAndGlyphs" >Triton-X100</text>
<text id="t68" x="213.80" y="533.30" font-size="11" text-anchor="start" fill="#3d4f6b" textLength="79.08" lengthAdjust="spacingAndGlyphs" >Activation of the</text>
<text id="t69" x="213.80" y="547.70" font-size="11" text-anchor="start" fill="#3d4f6b" textLength="77.26" lengthAdjust="spacingAndGlyphs" >Gárdos channel</text>
<text id="t70" x="134.30" y="575.40" font-size="11" text-anchor="middle" fill="#3d4f6b" textLength="38.40" lengthAdjust="spacingAndGlyphs" >Resting</text>
<text id="t71" x="134.40" y="589.20" font-size="11" text-anchor="middle" fill="#3d4f6b" textLength="51.81" lengthAdjust="spacingAndGlyphs" >membrane</text>
<text id="t72" x="134.20" y="602.30" font-size="11" text-anchor="middle" fill="#3d4f6b" textLength="40.81" lengthAdjust="spacingAndGlyphs" >potential</text>
<text id="t73" x="347.50" y="521.50" font-size="11" text-anchor="start" fill="#1d5a92" textLength="75.28" lengthAdjust="spacingAndGlyphs" >Inhibition of the</text>
<text id="t74" x="347.50" y="535.70" font-size="11" text-anchor="start" fill="#1d5a92" textLength="78.71" lengthAdjust="spacingAndGlyphs" >Gárdos channel</text>
<text id="t75" x="387.30" y="587.90" font-size="11" text-anchor="middle" fill="#c41230" textLength="59.32" lengthAdjust="spacingAndGlyphs" >Activation of</text>
<text id="t76" x="388.80" y="601.90" font-size="11" text-anchor="middle" fill="#c41230" textLength="32.65" lengthAdjust="spacingAndGlyphs" >Piezo1</text>
<text id="t77" x="461.50" y="563.60" font-size="11" text-anchor="middle" fill="#3d4f6b" textLength="93.76" lengthAdjust="spacingAndGlyphs" transform="rotate(-90 461.50 563.60)" >Calibration to 0 mV</text>
<text id="t78" x="28.30" y="708.50" font-size="19" text-anchor="start" fill="#000" font-weight="bold" >e</text>
<line x1="95.00" y1="723.20" x2="95.00" y2="829.50" stroke="#000" stroke-width="2" />
<line x1="88.80" y1="724.20" x2="95.00" y2="724.20" stroke="#000" stroke-width="1.6" />
<text id="t79" x="87.00" y="728.70" font-size="13" text-anchor="end" fill="#000" stroke="#000" stroke-width="0.2" >−20</text>
<line x1="88.80" y1="750.27" x2="95.00" y2="750.27" stroke="#000" stroke-width="1.6" />
<text id="t80" x="87.00" y="754.77" font-size="13" text-anchor="end" fill="#000" stroke="#000" stroke-width="0.2" >−30</text>
<line x1="88.80" y1="776.34" x2="95.00" y2="776.34" stroke="#000" stroke-width="1.6" />
<text id="t81" x="87.00" y="780.84" font-size="13" text-anchor="end" fill="#000" stroke="#000" stroke-width="0.2" >−40</text>
<line x1="88.80" y1="802.41" x2="95.00" y2="802.41" stroke="#000" stroke-width="1.6" />
<text id="t82" x="87.00" y="806.91" font-size="13" text-anchor="end" fill="#000" stroke="#000" stroke-width="0.2" >−50</text>
<line x1="88.80" y1="828.48" x2="95.00" y2="828.48" stroke="#000" stroke-width="1.6" />
<text id="t83" x="87.00" y="832.98" font-size="13" text-anchor="end" fill="#000" stroke="#000" stroke-width="0.2" >−60</text>
<line x1="94.00" y1="828.50" x2="253.50" y2="828.50" stroke="#000" stroke-width="2" />
<line x1="113.50" y1="828.50" x2="113.50" y2="833.50" stroke="#000" stroke-width="1.6" />
<text id="t84" x="113.50" y="847.60" font-size="13" text-anchor="middle" fill="#000" stroke="#000" stroke-width="0.2" >10</text>
<line x1="174.15" y1="828.50" x2="174.15" y2="833.50" stroke="#000" stroke-width="1.6" />
<text id="t85" x="174.15" y="847.60" font-size="13" text-anchor="middle" fill="#000" stroke="#000" stroke-width="0.2" >100</text>
<line x1="234.80" y1="828.50" x2="234.80" y2="833.50" stroke="#000" stroke-width="1.6" />
<text id="t86" x="234.80" y="847.60" font-size="13" text-anchor="middle" fill="#000" stroke="#000" stroke-width="0.2" >1000</text>
<text id="t87" x="43.00" y="775.20" font-size="15" text-anchor="middle" fill="#000" textLength="49.21" lengthAdjust="spacingAndGlyphs" transform="rotate(-90 43.00 775.20)" stroke="#000" stroke-width="0.45" >Membrane</text>
<text id="t88" x="61.50" y="774.70" font-size="15" text-anchor="middle" fill="#000" textLength="66.17" lengthAdjust="spacingAndGlyphs" transform="rotate(-90 61.50 774.70)" stroke="#000" stroke-width="0.45" >potential (mV)</text>
<text id="t89" x="174.30" y="866.60" font-size="13.2" text-anchor="middle" fill="#000" textLength="61.41" lengthAdjust="spacingAndGlyphs" stroke="#000" stroke-width="0.2" >[Ca<tspan font-size="9.5" dy="-4.6">2+</tspan><tspan dy="4.6">]</tspan><tspan font-size="8.5" dy="2.6">ext</tspan><tspan dy="-2.6"> (µM)</tspan></text>
<line x1="95.00" y1="731.50" x2="253.50" y2="805.30" stroke="#c41230" stroke-width="2.2" />
<line x1="113.50" y1="733.70" x2="113.50" y2="746.70" stroke="#c41230" stroke-width="1.8" />
<line x1="110.10" y1="733.70" x2="116.90" y2="733.70" stroke="#c41230" stroke-width="1.8" />
<line x1="110.10" y1="746.70" x2="116.90" y2="746.70" stroke="#c41230" stroke-width="1.8" />
<circle cx="113.50" cy="740.90" r="2.3" fill="#c41230"/>
<line x1="153.10" y1="748.40" x2="153.10" y2="761.50" stroke="#c41230" stroke-width="1.8" />
<line x1="149.70" y1="748.40" x2="156.50" y2="748.40" stroke="#c41230" stroke-width="1.8" />
<line x1="149.70" y1="761.50" x2="156.50" y2="761.50" stroke="#c41230" stroke-width="1.8" />
<circle cx="153.10" cy="755.60" r="2.3" fill="#c41230"/>
<line x1="176.60" y1="773.90" x2="176.60" y2="778.50" stroke="#c41230" stroke-width="1.8" />
<line x1="173.20" y1="773.90" x2="180.00" y2="773.90" stroke="#c41230" stroke-width="1.8" />
<line x1="173.20" y1="778.50" x2="180.00" y2="778.50" stroke="#c41230" stroke-width="1.8" />
<circle cx="176.60" cy="776.20" r="2.3" fill="#c41230"/>
<line x1="208.30" y1="777.10" x2="208.30" y2="791.50" stroke="#c41230" stroke-width="1.8" />
<line x1="204.90" y1="777.10" x2="211.70" y2="777.10" stroke="#c41230" stroke-width="1.8" />
<line x1="204.90" y1="791.50" x2="211.70" y2="791.50" stroke="#c41230" stroke-width="1.8" />
<circle cx="208.30" cy="785.00" r="2.3" fill="#c41230"/>
<line x1="235.50" y1="784.00" x2="235.50" y2="808.50" stroke="#c41230" stroke-width="1.8" />
<line x1="232.10" y1="784.00" x2="238.90" y2="784.00" stroke="#c41230" stroke-width="1.8" />
<line x1="232.10" y1="808.50" x2="238.90" y2="808.50" stroke="#c41230" stroke-width="1.8" />
<circle cx="235.50" cy="797.10" r="2.3" fill="#c41230"/>
<text id="t90" x="102.50" y="820.80" font-size="13" text-anchor="start" fill="#000" textLength="87.61" lengthAdjust="spacingAndGlyphs" stroke="#000" stroke-width="0.2" >100 µM NS309</text>
<text id="t91" x="279.00" y="708.00" font-size="19" text-anchor="start" fill="#000" font-weight="bold" >f</text>
<line x1="331.80" y1="718.30" x2="331.80" y2="831.10" stroke="#000" stroke-width="2" />
<line x1="325.40" y1="830.10" x2="331.80" y2="830.10" stroke="#000" stroke-width="1.6" />
<text id="t92" x="323.30" y="834.60" font-size="13" text-anchor="end" fill="#000" stroke="#000" stroke-width="0.2" >0</text>
<line x1="325.40" y1="802.40" x2="331.80" y2="802.40" stroke="#000" stroke-width="1.6" />
<text id="t93" x="323.30" y="806.90" font-size="13" text-anchor="end" fill="#000" stroke="#000" stroke-width="0.2" >20</text>
<line x1="325.40" y1="774.70" x2="331.80" y2="774.70" stroke="#000" stroke-width="1.6" />
<text id="t94" x="323.30" y="779.20" font-size="13" text-anchor="end" fill="#000" stroke="#000" stroke-width="0.2" >40</text>
<line x1="325.40" y1="747.00" x2="331.80" y2="747.00" stroke="#000" stroke-width="1.6" />
<text id="t95" x="323.30" y="751.50" font-size="13" text-anchor="end" fill="#000" stroke="#000" stroke-width="0.2" >60</text>
<line x1="325.40" y1="719.30" x2="331.80" y2="719.30" stroke="#000" stroke-width="1.6" />
<text id="t96" x="323.30" y="723.80" font-size="13" text-anchor="end" fill="#000" stroke="#000" stroke-width="0.2" >80</text>
<line x1="330.80" y1="830.30" x2="499.70" y2="830.30" stroke="#000" stroke-width="2" />
<line x1="345.70" y1="830.30" x2="345.70" y2="835.50" stroke="#000" stroke-width="1.6" />
<text id="t97" x="345.70" y="849.20" font-size="13" text-anchor="middle" fill="#000" stroke="#000" stroke-width="0.2" >1</text>
<line x1="392.43" y1="830.30" x2="392.43" y2="835.50" stroke="#000" stroke-width="1.6" />
<text id="t98" x="392.43" y="849.20" font-size="13" text-anchor="middle" fill="#000" stroke="#000" stroke-width="0.2" >10</text>
<line x1="439.16" y1="830.30" x2="439.16" y2="835.50" stroke="#000" stroke-width="1.6" />
<text id="t99" x="439.16" y="849.20" font-size="13" text-anchor="middle" fill="#000" stroke="#000" stroke-width="0.2" >100</text>
<line x1="485.89" y1="830.30" x2="485.89" y2="835.50" stroke="#000" stroke-width="1.6" />
<text id="t100" x="485.89" y="849.20" font-size="13" text-anchor="middle" fill="#000" stroke="#000" stroke-width="0.2" >1000</text>
<text id="t101" x="297.20" y="775.60" font-size="15" text-anchor="middle" fill="#000" textLength="99.62" lengthAdjust="spacingAndGlyphs" transform="rotate(-90 297.20 775.60)" stroke="#000" stroke-width="0.45" >Responding cells (%)</text>
<text id="t102" x="415.00" y="866.00" font-size="13.2" text-anchor="middle" fill="#000" textLength="59.98" lengthAdjust="spacingAndGlyphs" stroke="#000" stroke-width="0.2" >[Ca<tspan font-size="9.5" dy="-4.6">2+</tspan><tspan dy="4.6">]</tspan><tspan font-size="8.5" dy="2.6">ext</tspan><tspan dy="-2.6"> (µM)</tspan></text>
<path d="M331.68,816.29 L333.08,815.42 L334.48,814.52 L335.89,813.57 L337.29,812.59 L338.69,811.57 L340.09,810.51 L341.49,809.41 L342.90,808.27 L344.30,807.09 L345.70,805.88 L347.10,804.62 L348.50,803.33 L349.91,802.00 L351.31,800.64 L352.71,799.25 L354.11,797.82 L355.51,796.36 L356.92,794.87 L358.32,793.35 L359.72,791.81 L361.12,790.24 L362.52,788.66 L363.92,787.05 L365.33,785.43 L366.73,783.80 L368.13,782.16 L369.53,780.51 L370.93,778.86 L372.34,777.20 L373.74,775.56 L375.14,773.91 L376.54,772.28 L377.94,770.67 L379.35,769.07 L380.75,767.49 L382.15,765.94 L383.55,764.42 L384.95,762.94 L386.36,761.49 L387.76,760.08 L389.16,758.72 L390.56,757.41 L391.96,756.15 L393.36,754.95 L394.77,753.81 L396.17,752.73 L397.57,751.71 L398.97,750.77 L400.37,749.90 L401.78,749.10 L403.18,748.38 L404.58,747.74 L405.98,747.18 L407.38,746.71 L408.79,746.32 L410.19,746.01 L411.59,745.79 L412.99,745.66 L414.39,745.62 L415.80,745.66 L417.20,745.79 L418.60,746.01 L420.00,746.32 L421.40,746.71 L422.80,747.18 L424.21,747.74 L425.61,748.38 L427.01,749.10 L428.41,749.90 L429.81,750.77 L431.22,751.71 L432.62,752.73 L434.02,753.81 L435.42,754.95 L436.82,756.15 L438.23,757.41 L439.63,758.72 L441.03,760.08 L442.43,761.49 L443.83,762.94 L445.23,764.42 L446.64,765.94 L448.04,767.49 L449.44,769.07 L450.84,770.67 L452.24,772.28 L453.65,773.91 L455.05,775.56 L456.45,777.20 L457.85,778.86 L459.25,780.51 L460.66,782.16 L462.06,783.80 L463.46,785.43 L464.86,787.05 L466.26,788.66 L467.67,790.24 L469.07,791.81 L470.47,793.35 L471.87,794.87 L473.27,796.36 L474.67,797.82 L476.08,799.25 L477.48,800.64 L478.88,802.00 L480.28,803.33 L481.68,804.62 L483.09,805.88 L484.49,807.09 L485.89,808.27 L487.29,809.41 L488.69,810.51 L490.10,811.57 L491.50,812.59 L492.90,813.57 L494.30,814.52 L495.70,815.42 L497.11,816.29 L498.51,817.12 L499.91,817.91 L501.31,818.67" fill="none" stroke="#10528a" stroke-width="2.4" stroke-linejoin="round" />
<line x1="345.70" y1="784.20" x2="345.70" y2="826.60" stroke="#10528a" stroke-width="2" />
<line x1="341.40" y1="784.20" x2="350.00" y2="784.20" stroke="#10528a" stroke-width="2" />
<line x1="341.40" y1="826.60" x2="350.00" y2="826.60" stroke="#10528a" stroke-width="2" />
<circle cx="345.70" cy="805.40" r="3.5" fill="#10528a"/>
<line x1="392.10" y1="731.70" x2="392.10" y2="778.80" stroke="#10528a" stroke-width="2" />
<line x1="387.80" y1="731.70" x2="396.40" y2="731.70" stroke="#10528a" stroke-width="2" />
<line x1="387.80" y1="778.80" x2="396.40" y2="778.80" stroke="#10528a" stroke-width="2" />
<circle cx="392.10" cy="754.90" r="3.5" fill="#10528a"/>
<line x1="438.90" y1="745.80" x2="438.90" y2="767.00" stroke="#10528a" stroke-width="2" />
<line x1="434.60" y1="745.80" x2="443.20" y2="745.80" stroke="#10528a" stroke-width="2" />
<line x1="434.60" y1="767.00" x2="443.20" y2="767.00" stroke="#10528a" stroke-width="2" />
<circle cx="438.90" cy="756.20" r="3.5" fill="#10528a"/>
<line x1="464.20" y1="773.60" x2="464.20" y2="811.50" stroke="#10528a" stroke-width="2" />
<line x1="459.90" y1="773.60" x2="468.50" y2="773.60" stroke="#10528a" stroke-width="2" />
<line x1="459.90" y1="811.50" x2="468.50" y2="811.50" stroke="#10528a" stroke-width="2" />
<circle cx="464.20" cy="792.20" r="3.5" fill="#10528a"/>
<line x1="485.80" y1="784.00" x2="485.80" y2="821.40" stroke="#10528a" stroke-width="2" />
<line x1="481.50" y1="784.00" x2="490.10" y2="784.00" stroke="#10528a" stroke-width="2" />
<line x1="481.50" y1="821.40" x2="490.10" y2="821.40" stroke="#10528a" stroke-width="2" />
<circle cx="485.80" cy="802.50" r="3.5" fill="#10528a"/>
<text id="t103" x="406.80" y="724.50" font-size="13.7" text-anchor="start" fill="#000" textLength="91.20" lengthAdjust="spacingAndGlyphs" stroke="#000" stroke-width="0.2" >100 µM NS309</text>
<text id="t104" x="9.60" y="894.20" font-size="20.5" text-anchor="start" fill="#000" font-weight="bold" >B</text>
<text id="t105" x="28.70" y="900.20" font-size="19" text-anchor="start" fill="#000" font-weight="bold" >a</text>
<line x1="90.70" y1="915.20" x2="90.70" y2="1034.20" stroke="#000" stroke-width="2" />
<line x1="84.50" y1="1033.20" x2="90.70" y2="1033.20" stroke="#000" stroke-width="1.6" />
<text id="t106" x="82.00" y="1037.70" font-size="13" text-anchor="end" fill="#000" stroke="#000" stroke-width="0.2" >0</text>
<line x1="84.50" y1="994.20" x2="90.70" y2="994.20" stroke="#000" stroke-width="1.6" />
<text id="t107" x="82.00" y="998.70" font-size="13" text-anchor="end" fill="#000" stroke="#000" stroke-width="0.2" >5</text>
<line x1="84.50" y1="955.20" x2="90.70" y2="955.20" stroke="#000" stroke-width="1.6" />
<text id="t108" x="82.00" y="959.70" font-size="13" text-anchor="end" fill="#000" stroke="#000" stroke-width="0.2" >10</text>
<line x1="84.50" y1="916.20" x2="90.70" y2="916.20" stroke="#000" stroke-width="1.6" />
<text id="t109" x="82.00" y="920.70" font-size="13" text-anchor="end" fill="#000" stroke="#000" stroke-width="0.2" >15</text>
<line x1="89.70" y1="1033.20" x2="258.30" y2="1033.20" stroke="#000" stroke-width="2" />
<line x1="111.20" y1="1033.20" x2="111.20" y2="1039.00" stroke="#000" stroke-width="1.6" />
<line x1="152.70" y1="1033.20" x2="152.70" y2="1039.00" stroke="#000" stroke-width="1.6" />
<line x1="194.90" y1="1033.20" x2="194.90" y2="1039.00" stroke="#000" stroke-width="1.6" />
<line x1="237.50" y1="1033.20" x2="237.50" y2="1039.00" stroke="#000" stroke-width="1.6" />
<text id="t110" x="56.90" y="971.20" font-size="15.4" text-anchor="middle" fill="#000" textLength="100.02" lengthAdjust="spacingAndGlyphs" transform="rotate(-90 56.90 971.20)" stroke="#000" stroke-width="0.45" >Responding cells (%)</text>
<rect x="98.20" y="1028.80" width="25.90" height="4.40" fill="#c41230" stroke="#000" stroke-width="2"/>
<rect x="140.40" y="1016.90" width="25.20" height="16.30" fill="#10528a" stroke="#000" stroke-width="2"/>
<rect x="182.30" y="991.90" width="25.60" height="41.30" fill="#3cb54b" stroke="#000" stroke-width="2"/>
<rect x="224.50" y="927.80" width="25.20" height="105.40" fill="#5a286c" stroke="#000" stroke-width="2"/>
<text id="t111" x="114.50" y="1048.30" font-size="13" text-anchor="end" fill="#000" textLength="99.76" lengthAdjust="spacingAndGlyphs" transform="rotate(-45 114.50 1048.30)" stroke="#000" stroke-width="0.2" >Control untreated</text>
<text id="t112" x="154.90" y="1049.10" font-size="13" text-anchor="end" fill="#000" textLength="41.22" lengthAdjust="spacingAndGlyphs" transform="rotate(-45 154.90 1049.10)" stroke="#000" stroke-width="0.2" >Control</text>
<text id="t113" x="201.60" y="1050.80" font-size="13" text-anchor="end" fill="#000" textLength="52.40" lengthAdjust="spacingAndGlyphs" transform="rotate(-45 201.60 1050.80)" stroke="#000" stroke-width="0.2" >p.S314P</text>
<text id="t114" x="237.10" y="1052.00" font-size="13" text-anchor="end" fill="#000" textLength="49.93" lengthAdjust="spacingAndGlyphs" transform="rotate(-45 237.10 1052.00)" stroke="#000" stroke-width="0.2" >p.R352H</text>
<text id="t115" x="173.60" y="1106.10" font-size="15" text-anchor="middle" fill="#000" textLength="65.82" lengthAdjust="spacingAndGlyphs" stroke="#000" stroke-width="0.45" >10 µM NS309</text>
<text id="t116" x="280.40" y="900.20" font-size="19" text-anchor="start" fill="#000" font-weight="bold" >b</text>
<text id="t117" x="355.00" y="901.50" font-size="15" text-anchor="start" fill="#000" textLength="121.93" lengthAdjust="spacingAndGlyphs" stroke="#000" stroke-width="0.2" >p.R352H mutation</text>
<line x1="333.10" y1="917.50" x2="333.10" y2="1034.50" stroke="#000" stroke-width="2" />
<line x1="326.70" y1="1033.80" x2="333.10" y2="1033.80" stroke="#000" stroke-width="1.6" />
<text id="t118" x="324.80" y="1038.30" font-size="13" text-anchor="end" fill="#000" stroke="#000" stroke-width="0.2" >0</text>
<line x1="326.70" y1="1010.74" x2="333.10" y2="1010.74" stroke="#000" stroke-width="1.6" />
<text id="t119" x="324.80" y="1015.24" font-size="13" text-anchor="end" fill="#000" stroke="#000" stroke-width="0.2" >5</text>
<line x1="326.70" y1="987.68" x2="333.10" y2="987.68" stroke="#000" stroke-width="1.6" />
<text id="t120" x="324.80" y="992.18" font-size="13" text-anchor="end" fill="#000" stroke="#000" stroke-width="0.2" >10</text>
<line x1="326.70" y1="964.62" x2="333.10" y2="964.62" stroke="#000" stroke-width="1.6" />
<text id="t121" x="324.80" y="969.12" font-size="13" text-anchor="end" fill="#000" stroke="#000" stroke-width="0.2" >15</text>
<line x1="326.70" y1="941.56" x2="333.10" y2="941.56" stroke="#000" stroke-width="1.6" />
<text id="t122" x="324.80" y="946.06" font-size="13" text-anchor="end" fill="#000" stroke="#000" stroke-width="0.2" >20</text>
<line x1="326.70" y1="918.50" x2="333.10" y2="918.50" stroke="#000" stroke-width="1.6" />
<text id="t123" x="324.80" y="923.00" font-size="13" text-anchor="end" fill="#000" stroke="#000" stroke-width="0.2" >25</text>
<line x1="332.10" y1="1033.50" x2="503.50" y2="1033.50" stroke="#000" stroke-width="2" />
<line x1="350.30" y1="1033.50" x2="350.30" y2="1039.50" stroke="#000" stroke-width="1.6" />
<line x1="384.00" y1="1033.50" x2="384.00" y2="1039.50" stroke="#000" stroke-width="1.6" />
<line x1="417.60" y1="1033.50" x2="417.60" y2="1039.50" stroke="#000" stroke-width="1.6" />
<line x1="452.60" y1="1033.50" x2="452.60" y2="1039.50" stroke="#000" stroke-width="1.6" />
<line x1="486.10" y1="1033.50" x2="486.10" y2="1039.50" stroke="#000" stroke-width="1.6" />
<text id="t124" x="296.80" y="971.20" font-size="15.4" text-anchor="middle" fill="#000" textLength="99.73" lengthAdjust="spacingAndGlyphs" transform="rotate(-90 296.80 971.20)" stroke="#000" stroke-width="0.45" >Responding cells (%)</text>
<rect x="340.10" y="957.10" width="20.00" height="76.40" fill="#c41230" stroke="#000" stroke-width="2"/>
<rect x="374.40" y="987.50" width="20.10" height="46.00" fill="#c41230" stroke="#000" stroke-width="2"/>
<rect x="408.40" y="986.90" width="19.70" height="46.60" fill="#c41230" stroke="#000" stroke-width="2"/>
<rect x="442.70" y="992.40" width="19.80" height="41.10" fill="#c41230" stroke="#000" stroke-width="2"/>
<rect x="476.20" y="931.30" width="20.80" height="102.20" fill="#c41230" stroke="#000" stroke-width="2"/>
<text id="t125" x="353.10" y="1049.80" font-size="13" text-anchor="end" fill="#000" textLength="68.45" lengthAdjust="spacingAndGlyphs" transform="rotate(-45 353.10 1049.80)" stroke="#000" stroke-width="0.2" >Control 24h</text>
<text id="t126" x="384.00" y="1049.80" font-size="13" text-anchor="end" fill="#000" textLength="70.74" lengthAdjust="spacingAndGlyphs" transform="rotate(-45 384.00 1049.80)" stroke="#000" stroke-width="0.2" >Tram34 24h</text>
<text id="t127" x="418.60" y="1049.80" font-size="13" text-anchor="end" fill="#000" textLength="87.38" lengthAdjust="spacingAndGlyphs" transform="rotate(-45 418.60 1049.80)" stroke="#000" stroke-width="0.2" >Senicapoc 24h</text>
<text id="t128" x="451.30" y="1051.10" font-size="13" text-anchor="end" fill="#000" textLength="105.13" lengthAdjust="spacingAndGlyphs" transform="rotate(-45 451.30 1051.10)" stroke="#000" stroke-width="0.2" >ω-Agatoxin TK 24h</text>
<text id="t129" x="486.50" y="1051.40" font-size="13" text-anchor="end" fill="#000" textLength="72.83" lengthAdjust="spacingAndGlyphs" transform="rotate(-45 486.50 1051.40)" stroke="#000" stroke-width="0.2" >GsMTx4 24h</text>
</svg>
</body></html>
